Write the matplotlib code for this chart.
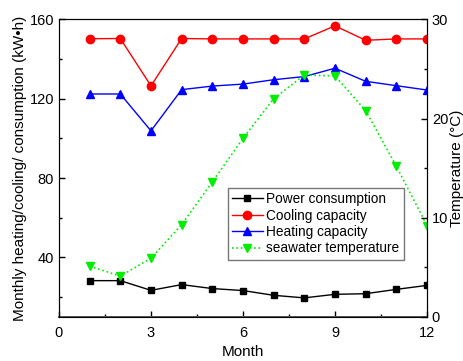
import numpy as np
import matplotlib
matplotlib.use("Agg")
import matplotlib.pyplot as plt
from matplotlib.ticker import MultipleLocator

plt.rcParams['font.family'] = ['Liberation Sans', 'DejaVu Sans']

# monthly data
months = [1, 2, 3, 4, 5, 6, 7, 8, 9, 10, 11, 12]
power = [28.2, 28.2, 23.3, 26.2, 24.2, 23.2, 20.8, 19.5, 21.3, 21.6, 23.8, 25.8]
cooling = [150.3, 150.4, 126.5, 150.4, 150.2, 150.2, 150.2, 150.2, 156.8, 149.5, 150.2, 150.2]
heating = [122.4, 122.4, 103.8, 124.6, 126.4, 127.4, 129.6, 131.2, 135.4, 128.8, 126.6, 124.4]
seawater = [5.1, 4.1, 5.9, 9.3, 13.6, 18.0, 22.0, 24.4, 24.3, 20.8, 15.2, 9.2]

fig = plt.figure(figsize=(4.63, 3.61), dpi=100)
ax = fig.add_axes([0.1274, 0.1227, 0.7948, 0.8233])
ax2 = ax.twinx()

l1, = ax.plot(months, power, '-s', color='black', lw=1, ms=5, label='Power consumption')
l2, = ax.plot(months, cooling, '-o', color='red', lw=1, ms=6, label='Cooling capacity')
l3, = ax.plot(months, heating, '-^', color='blue', lw=1, ms=6, label='Heating capacity')
l4, = ax2.plot(months, seawater, ':v', color='#00ee00', lw=1.2, ms=6, label='seawater temperature')

ax.set_xlim(0, 12)
ax.set_ylim(10, 160)
ax2.set_ylim(0, 30)

ax.xaxis.set_major_locator(MultipleLocator(3))
ax.xaxis.set_minor_locator(MultipleLocator(1.5))
ax.set_yticks([40, 80, 120, 160])
ax.yaxis.set_minor_locator(MultipleLocator(20))
ax2.yaxis.set_major_locator(MultipleLocator(10))
ax2.yaxis.set_minor_locator(MultipleLocator(5))

for a in (ax, ax2):
    a.tick_params(which='both', direction='in', labelsize=10.5, width=1)
    a.tick_params(which='major', length=4)
    a.tick_params(which='minor', length=2.5)
ax.tick_params(axis='y', right=False)
ax.tick_params(axis='x', pad=7)
ax.spines['bottom'].set_color('#555555')
ax.spines['bottom'].set_linewidth(1.4)

ax.set_xlabel('Month', fontsize=11, labelpad=3)
ax.set_ylabel('Monthly heating/cooling/ consumption (kW\u2022h)', fontsize=11, labelpad=2)
ax2.set_ylabel('Temperature (\u00b0C)', fontsize=11, labelpad=1)

leg = ax.legend(handles=[l1, l2, l3, l4], loc='upper left',
                bbox_to_anchor=(0.458, 0.433), fontsize=9.8, frameon=True,
                fancybox=False, edgecolor='#555555', borderpad=0.3,
                labelspacing=0.18, handlelength=2.3, handletextpad=0.25,
                borderaxespad=0)
leg.get_frame().set_linewidth(1)

fig.savefig('out.png', dpi=100)
